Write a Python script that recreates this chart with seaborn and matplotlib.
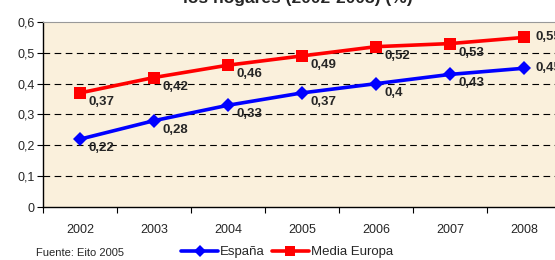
import matplotlib
matplotlib.use("Agg")
import matplotlib.pyplot as plt
from matplotlib.lines import Line2D
import seaborn as sns
import pandas as pd
import numpy as np

years = ["2002", "2003", "2004", "2005", "2006", "2007", "2008"]
espana = [0.22, 0.28, 0.33, 0.37, 0.40, 0.43, 0.45]
europa = [0.37, 0.42, 0.46, 0.49, 0.52, 0.53, 0.55]
espana_labels = ["0,22", "0,28", "0,33", "0,37", "0,4", "0,43", "0,45"]
europa_labels = ["0,37", "0,42", "0,46", "0,49", "0,52", "0,53", "0,55"]
yticks = [0, 0.1, 0.2, 0.3, 0.4, 0.5, 0.6]
ytick_labels = ["0", "0,1", "0,2", "0,3", "0,4", "0,5", "0,6"]
title = "los hogares (2002-2008) (%)"
source = "Fuente: Eito 2005"

sns.set_theme(style="white")
plt.rcParams['font.family'] = ['Liberation Sans', 'DejaVu Sans']

fig = plt.figure(figsize=(5.55, 2.6), dpi=100)
fig.patch.set_facecolor("white")
ax = fig.add_axes([43/555, 1-207/260, 518/555, 185/260])
ax.set_facecolor("#FAF0DC")

x = np.arange(len(years))
df = pd.DataFrame({
    "x": np.concatenate([x, x]),
    "y": espana + europa,
    "serie": ["España"] * len(years) + ["Media Europa"] * len(years),
})
sns.lineplot(data=df, x="x", y="y", hue="serie", style="serie",
             palette={"España": "#0000FF", "Media Europa": "#FF0000"},
             markers={"España": "D", "Media Europa": "s"},
             dashes=False, markersize=7, linewidth=2.6,
             markeredgewidth=0, legend=False, ax=ax, zorder=3)
for line in ax.get_lines():
    if line.get_marker() == "s":
        line.set_markersize(8)

last = len(years) - 1
for series, labels in ((espana, espana_labels), (europa, europa_labels)):
    for xi, yi, lab in zip(x, series, labels):
        off = (8, 0) if xi == last else (6, -6.5)
        ax.annotate(lab, (xi, yi), xytext=off, textcoords="offset points",
                    fontsize=9.5, fontweight="bold", ha="left", va="center",
                    zorder=4, annotation_clip=False)

ax.set_ylim(0, 0.6)
ax.set_xlim(-0.5, 6.5)
ax.set_yticks(yticks)
ax.set_yticklabels(ytick_labels, fontsize=9)
ax.set_xticks(x)
ax.set_xticklabels(years, fontsize=9)
ax.set_xticks(np.arange(-0.5, 7.0, 1.0), minor=True)
ax.tick_params(axis="x", which="major", length=0, pad=12)
ax.tick_params(axis="x", which="minor", length=4, width=0.8, color="black", direction="out", bottom=True)
ax.tick_params(axis="y", which="major", length=4, width=0.8, color="black", direction="out", left=True, pad=2)
ax.set_xlabel("")
ax.set_ylabel("")
for v in yticks[1:6]:
    ax.axhline(v, color="black", linestyle=(0, (6, 4)), linewidth=0.8, zorder=1)

ax.spines["left"].set_color("black")
ax.spines["bottom"].set_color("black")
ax.spines["left"].set_linewidth(1)
ax.spines["bottom"].set_linewidth(1)
ax.spines["top"].set_color("#999999")
ax.spines["top"].set_linewidth(0.8)
ax.spines["right"].set_visible(False)

fig.text(298/555, 1 - 3/260, title, ha="center", va="baseline", fontsize=12.5, fontweight="bold")
fig.text(36/555, 1 - 253/260, source, ha="left", va="center", fontsize=8)

handles = [
    Line2D([0], [0], color="#0000FF", marker="D", markersize=6, linewidth=2.6, markeredgewidth=0),
    Line2D([0], [0], color="#FF0000", marker="s", markersize=7, linewidth=2.6, markeredgewidth=0),
]
fig.legend(handles, ["España", "Media Europa"], loc="center", bbox_to_anchor=(287/555, 1 - 252/260),
           ncol=2, frameon=False, fontsize=9.5, handlelength=2.8, handletextpad=0.15,
           columnspacing=0.5, borderpad=0)

fig.savefig("out.png", dpi=100, facecolor="white")
